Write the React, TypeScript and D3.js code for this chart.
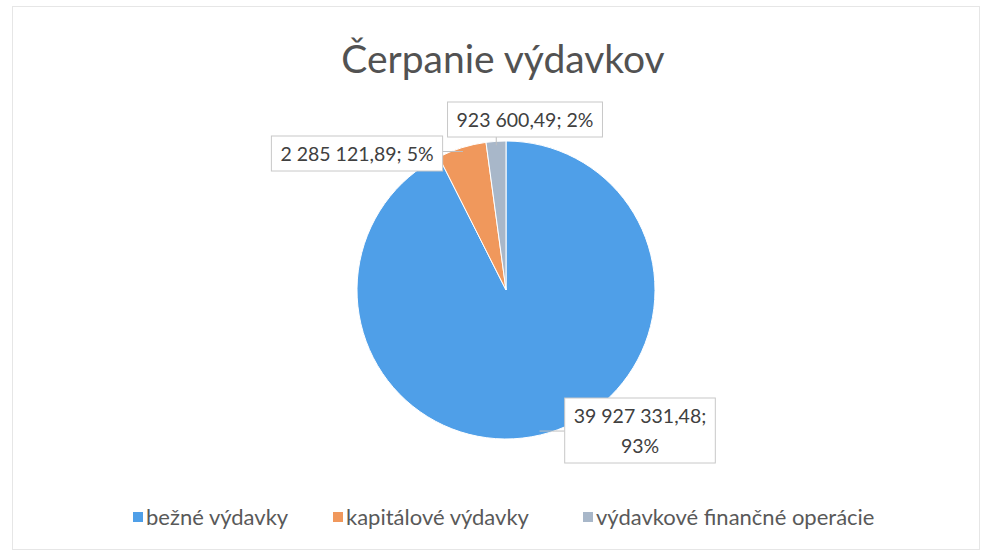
import React, { useRef, useEffect } from "react";
import * as d3 from "d3";

// data
const categories = ["bežné výdavky", "kapitálové výdavky", "výdavkové finančné operácie"];
const values = [39927331.48, 2285121.89, 923600.49];
const colors = ["#4f9fe8", "#f0985c", "#a8b7c9"];
const title = "Čerpanie výdavkov";

// label box centres, relative to the pie centre (Excel puts them by hand)
const labelOffsets: [number, number][] = [
  [134, 141],
  [-149, -136],
  [19, -170],
];

const W = 986;
const H = 554;
const FONT = "Lato, 'Open Sans', sans-serif";

const skLocale = d3.formatLocale({
  decimal: ",",
  thousands: " ",
  grouping: [3],
  currency: ["", ""],
});
const fmt = skLocale.format(",.2f");

const App: React.FC = () => {
  const svgRef = useRef<SVGSVGElement>(null);

  useEffect(() => {
    if (!svgRef.current) return;
    const svg = d3.select(svgRef.current);
    svg.selectAll("*").remove();

    // chart frame
    svg
      .append("rect")
      .attr("x", 12.5)
      .attr("y", 6.5)
      .attr("width", 967)
      .attr("height", 543)
      .attr("fill", "#fff")
      .attr("stroke", "#e6e6e6");

    svg
      .append("text")
      .attr("x", 503)
      .attr("y", 73)
      .attr("text-anchor", "middle")
      .attr("font-family", FONT)
      .attr("font-size", 39)
      .attr("fill", "#525252")
      .text(title);

    const cx = 506;
    const cy = 290;
    const r = 149;

    const total = d3.sum(values);
    const pie = d3
      .pie<number>()
      .sort(null)
      .value((d) => d);
    const arcs = pie(values);
    const arc = d3.arc<d3.PieArcDatum<number>>().innerRadius(0).outerRadius(r);

    const g = svg.append("g").attr("transform", `translate(${cx},${cy})`);

    g.selectAll("path.slice")
      .data(arcs)
      .enter()
      .append("path")
      .attr("class", "slice")
      .attr("d", arc)
      .attr("fill", (d, i) => colors[i])
      .attr("stroke", "#fff")
      .attr("stroke-width", 1);

    // data labels with boxes and leader lines
    const edgeArc = d3.arc<d3.PieArcDatum<number>>().innerRadius(r - 4).outerRadius(r - 4);
    arcs.forEach((d, i) => {
      const [ox, oy] = labelOffsets[i];
      const pct = Math.round((values[i] / total) * 100) + "%";
      const lines = i === 0 ? [fmt(values[i]) + ";", pct] : [fmt(values[i]) + "; " + pct];
      const lg = g.append("g").attr("transform", `translate(${ox},${oy})`);
      const lineH = 30;
      const t = lg
        .append("text")
        .attr("text-anchor", "middle")
        .attr("font-family", FONT)
        .attr("font-size", 19.5)
        .attr("fill", "#404040");
      lines.forEach((ln, k) => {
        t.append("tspan")
          .attr("x", 0)
          .attr("y", (k - (lines.length - 1) / 2) * lineH + 7)
          .text(ln);
      });
      const bb = (t.node() as SVGTextElement).getBBox();
      const padX = 9;
      const padY = 6;
      const bx = bb.x - padX;
      const by = bb.y - padY;
      const bw = bb.width + padX * 2;
      const bh = bb.height + padY * 2;

      // leader line from the slice edge to the box
      const [ex, ey] = edgeArc.centroid(d);
      const tx = Math.max(ox + bx, Math.min(ox + bx + bw, ex));
      const ty = Math.max(oy + by, Math.min(oy + by + bh, ey));
      g.insert("line", "g")
        .attr("x1", ex)
        .attr("y1", ey)
        .attr("x2", tx)
        .attr("y2", ty)
        .attr("stroke", "#bfbfbf")
        .attr("stroke-width", 1);

      lg.insert("rect", "text")
        .attr("x", bx)
        .attr("y", by)
        .attr("width", bw)
        .attr("height", bh)
        .attr("fill", "#fff")
        .attr("stroke", "#c8c8c8");
    });

    // legend
    const legendX = [133, 333, 583];
    const lg = svg.append("g").attr("transform", "translate(0,518)");
    categories.forEach((c, i) => {
      lg.append("rect")
        .attr("x", legendX[i])
        .attr("y", -6)
        .attr("width", 10)
        .attr("height", 10)
        .attr("fill", colors[i]);
      lg.append("text")
        .attr("x", legendX[i] + 13)
        .attr("y", 7)
        .attr("font-family", FONT)
        .attr("font-size", 22)
        .attr("fill", "#595959")
        .text(c);
    });
  }, []);

  return (
    <svg
      ref={svgRef}
      width={W}
      height={H}
      style={{ position: "absolute", left: 0, top: 0, background: "#fff" }}
    />
  );
};

export default App;
